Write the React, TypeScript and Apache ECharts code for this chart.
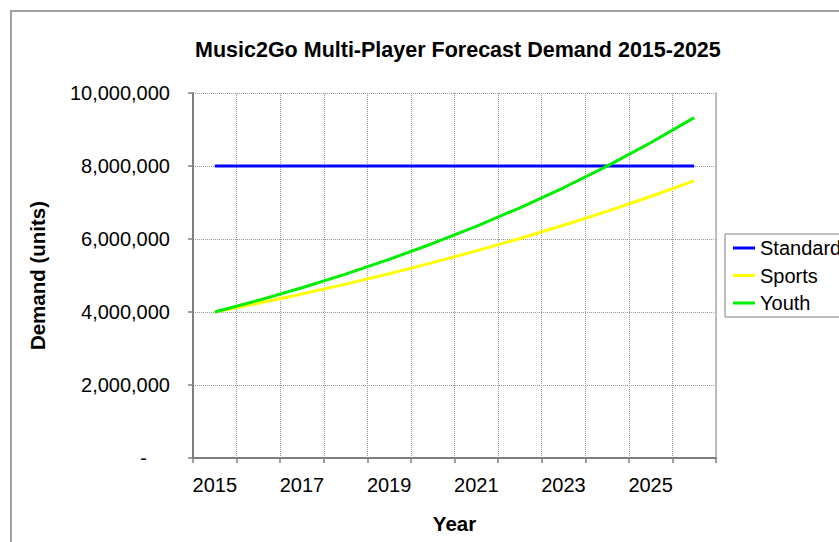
import React, { useEffect, useRef } from "react";
import * as echarts from "echarts";

const years = ["2015", "2016", "2017", "2018", "2019", "2020", "2021", "2022", "2023", "2024", "2025", "2026"];
const standard = [8000000, 8000000, 8000000, 8000000, 8000000, 8000000, 8000000, 8000000, 8000000, 8000000, 8000000, 8000000];
const sports = [4000000, 4240000, 4494400, 4764064, 5049908, 5352902, 5674076, 6014521, 6375392, 6757916, 7163391, 7593194];
const youth = [4000000, 4320000, 4665600, 5038848, 5441956, 5877312, 6347497, 6855297, 7403721, 7996019, 8635700, 9326556];

const FONT = '"Liberation Sans", Arial, sans-serif';

export default function App() {
  const ref = useRef<HTMLDivElement>(null);
  useEffect(() => {
    if (!ref.current) return;
    const chart = echarts.init(ref.current, null, { renderer: "svg" });
    chart.setOption({
      animation: false,
      backgroundColor: "#ffffff",
      textStyle: { fontFamily: FONT },
      title: {
        text: "Music2Go Multi-Player Forecast Demand 2015-2025",
        left: 195,
        top: 39,
        padding: 0,
        textStyle: { fontFamily: FONT, fontSize: 21.5, fontWeight: "bold", color: "#000" },
      },
      graphic: [
        {
          type: "rect",
          shape: { x: 11, y: 11, width: 900, height: 600 },
          style: { fill: "none", stroke: "#a0a0a0", lineWidth: 2 },
          silent: true,
        },
      ],
      legend: {
        orient: "vertical",
        left: 725,
        top: 234,
        padding: [4, 20, 4, 8],
        itemWidth: 22,
        itemHeight: 3,
        itemGap: 7.5,
        icon: "rect",
        borderColor: "#808080",
        borderWidth: 1,
        backgroundColor: "#fff",
        textStyle: { fontFamily: FONT, fontSize: 20, lineHeight: 20, color: "#000" },
        data: ["Standard", "Sports", "Youth"],
      },
      grid: { left: 193, top: 93, right: 123, bottom: 84, containLabel: false },
      xAxis: {
        type: "category",
        data: years,
        boundaryGap: true,
        name: "Year",
        nameLocation: "middle",
        nameGap: 55,
        nameTextStyle: { fontFamily: FONT, fontSize: 20.5, fontWeight: "bold", color: "#000" },
        axisLine: { show: true, lineStyle: { color: "#7f7f7f", width: 2 } },
        axisTick: { show: true, interval: 0, length: 5, lineStyle: { color: "#7f7f7f", width: 1.5 } },
        axisLabel: { interval: 1, margin: 17, fontFamily: FONT, fontSize: 20, color: "#000" },
        splitLine: { show: true, interval: 0, lineStyle: { color: "#9a9a9a", width: 1, type: "dotted" } },
      },
      yAxis: [
        {
          type: "value",
          min: 0,
          max: 10000000,
          interval: 2000000,
          name: "Demand (units)",
          nameLocation: "middle",
          nameGap: 145,
          nameTextStyle: { fontFamily: FONT, fontSize: 20.5, fontWeight: "bold", color: "#000" },
          axisLine: { show: true, lineStyle: { color: "#7f7f7f", width: 2 } },
          axisTick: { show: true, length: 5, lineStyle: { color: "#7f7f7f", width: 1.5 } },
          axisLabel: {
            margin: 23,
            fontFamily: FONT,
            fontSize: 20,
            color: "#000",
            formatter: (v: number) => (v === 0 ? "{z|-}" : v.toLocaleString("en-US")),
            rich: { z: { fontFamily: FONT, fontSize: 20, color: "#000", padding: [0, 23, 0, 0] } },
          },
          splitLine: { show: true, lineStyle: { color: "#9a9a9a", width: 1, type: "dotted" } },
        },
        {
          type: "value",
          min: 0,
          max: 10000000,
          interval: 2000000,
          position: "right",
          axisLine: { show: true, lineStyle: { color: "#b0b0b0", width: 1.5 } },
          axisTick: { show: false },
          axisLabel: { show: false },
          splitLine: { show: false },
        },
      ],
      series: [
        { name: "Standard", type: "line", data: standard, symbol: "none", color: "#0000ff", lineStyle: { width: 3, color: "#0000ff" } },
        { name: "Sports", type: "line", data: sports, symbol: "none", color: "#ffff00", lineStyle: { width: 3, color: "#ffff00" } },
        { name: "Youth", type: "line", data: youth, symbol: "none", color: "#00ee00", lineStyle: { width: 3, color: "#00ee00" } },
      ],
    });
    return () => chart.dispose();
  }, []);
  return <div ref={ref} style={{ position: "absolute", left: 0, top: 0, width: 839, height: 542 }} />;
}
